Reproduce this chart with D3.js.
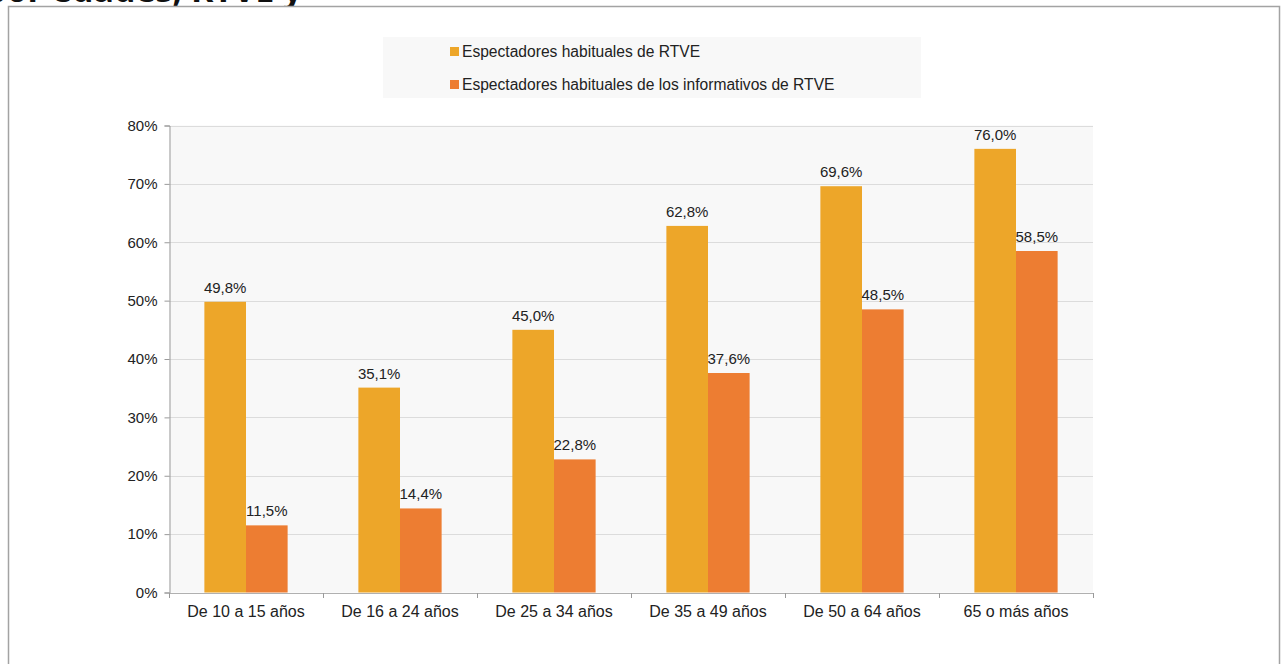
<!DOCTYPE html>
<html>
<head>
<meta charset="utf-8">
<script src="https://cdn.jsdelivr.net/npm/d3@7"></script>
<style>
  body { margin: 0; background: #fff; }
  svg { display: block; font-family: "Liberation Sans", Arial, sans-serif; }
</style>
</head>
<body>
<svg id="chart" width="1283" height="664"></svg>
<script>
// data
var categories = ["De 10 a 15 años", "De 16 a 24 años", "De 25 a 34 años", "De 35 a 49 años", "De 50 a 64 años", "65 o más años"];
var seriesNames = ["Espectadores habituales de RTVE", "Espectadores habituales de los informativos de RTVE"];
var rtve = [49.8, 35.1, 45.0, 62.8, 69.6, 76.0];
var informativos = [11.5, 14.4, 22.8, 37.6, 48.5, 58.5];
var yTicks = [0, 10, 20, 30, 40, 50, 60, 70, 80];
var colors = ["#EDA629", "#ED7D32"];

var svg = d3.select("#chart");
var m = {left: 169, right: 1093, top: 125.5, bottom: 592.5};

// title of the page, cut off at the top edge like in the reference
svg.append("text")
  .attr("x", -15).attr("y", 2)
  .attr("font-size", 34).attr("font-weight", "bold")
  .attr("font-family", "'Open Sans', sans-serif")
  .attr("fill", "#111")
  .text("por edades, RTVE y");

// frame
svg.append("rect")
  .attr("x", 8.5).attr("y", 6.5)
  .attr("width", 1271).attr("height", 700)
  .attr("fill", "#fff").attr("stroke", "#a3a3a3").attr("stroke-width", 1.5);

var x = d3.scaleBand().domain(categories).range([m.left, m.right]).paddingInner(0).paddingOuter(0);
var y = d3.scaleLinear().domain([0, 80]).range([m.bottom, m.top]);
var inner = d3.scaleBand().domain([0, 1]).range([0, x.bandwidth()]).paddingInner(0).paddingOuter(0.85);

// plot background
svg.append("rect")
  .attr("x", m.left).attr("y", m.top)
  .attr("width", m.right - m.left).attr("height", m.bottom - m.top)
  .attr("fill", "#f8f8f8");

// gridlines
svg.append("g")
  .selectAll("line")
  .data(yTicks.filter(function(d) { return d > 0; }))
  .enter().append("line")
    .attr("x1", m.left).attr("x2", m.right)
    .attr("y1", function(d) { return Math.round(y(d)) + 0.5; })
    .attr("y2", function(d) { return Math.round(y(d)) + 0.5; })
    .attr("stroke", "#dcdcdc");

// bars + value labels
var series = [rtve, informativos];
series.forEach(function(vals, s) {
  var g = svg.append("g");
  g.selectAll("rect")
    .data(vals)
    .enter().append("rect")
      .attr("x", function(d, i) { return x(categories[i]) + inner(s); })
      .attr("y", function(d) { return y(d); })
      .attr("width", inner.bandwidth())
      .attr("height", function(d) { return y(0) - y(d); })
      .attr("fill", colors[s]);

  g.selectAll("text")
    .data(vals)
    .enter().append("text")
      .attr("x", function(d, i) { return x(categories[i]) + inner(s) + inner.bandwidth() / 2; })
      .attr("y", function(d) { return y(d) - 9; })
      .attr("text-anchor", "middle")
      .attr("font-size", 15).attr("fill", "#222")
      .text(function(d) { return d3.format(".1f")(d).replace(".", ",") + "%"; });
});

// y axis
var yAxis = svg.append("g")
  .attr("transform", "translate(" + (m.left + 0.5) + ",0)")
  .call(d3.axisLeft(y).tickValues(yTicks).tickSize(5).tickPadding(7)
    .tickFormat(function(d) { return d + "%"; }));
yAxis.select(".domain").attr("stroke", "#9a9a9a");
yAxis.selectAll(".tick line").attr("stroke", "#9a9a9a");
yAxis.selectAll(".tick text").attr("font-size", 15).attr("fill", "#222")
  .attr("font-family", "'Liberation Sans', Arial, sans-serif");

// x axis
var xAxis = svg.append("g")
  .attr("transform", "translate(0," + (m.bottom + 0.5) + ")")
  .call(d3.axisBottom(x).tickSize(0).tickPadding(13));
xAxis.select(".domain").attr("stroke", "#b0b0b0");
xAxis.selectAll(".tick text").attr("font-size", 16).attr("fill", "#222")
  .attr("font-family", "'Liberation Sans', Arial, sans-serif");
xAxis.append("g").selectAll("line")
  .data(d3.range(categories.length + 1))
  .enter().append("line")
    .attr("x1", function(i) { return Math.round(m.left + i * x.step()) + 0.5; })
    .attr("x2", function(i) { return Math.round(m.left + i * x.step()) + 0.5; })
    .attr("y1", 0).attr("y2", 5)
    .attr("stroke", "#9a9a9a");

// legend
var lg = svg.append("g");
lg.append("rect")
  .attr("x", 383).attr("y", 37).attr("width", 538).attr("height", 61)
  .attr("fill", "#f8f8f8");
var items = lg.selectAll("g.item")
  .data(seriesNames)
  .enter().append("g")
    .attr("transform", function(d, i) { return "translate(450," + (45 + i * 33) + ")"; });
items.append("rect")
  .attr("x", 0).attr("y", 2).attr("width", 9).attr("height", 9)
  .attr("fill", function(d, i) { return colors[i]; });
items.append("text")
  .attr("x", 12).attr("y", 12)
  .attr("font-size", 15.6).attr("fill", "#222")
  .text(function(d) { return d; });
</script>
</body>
</html>
